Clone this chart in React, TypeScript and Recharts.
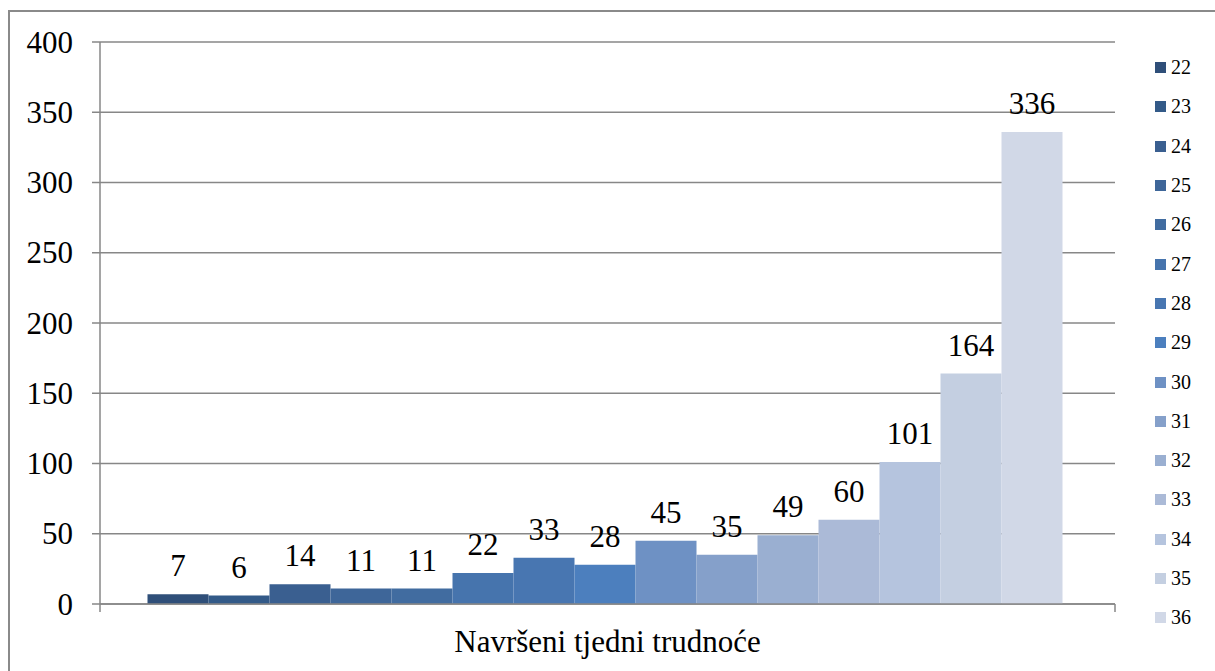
import { Bar, BarChart, CartesianGrid, LabelList, Legend, XAxis, YAxis } from 'recharts';

const category = 'Navršeni tjedni trudnoće';
const weeks = ['22', '23', '24', '25', '26', '27', '28', '29', '30', '31', '32', '33', '34', '35', '36'];
const counts = [7, 6, 14, 11, 11, 22, 33, 28, 45, 35, 49, 60, 101, 164, 336];
const colors = [
  '#2f4f79', '#335a88', '#3a5f90', '#3e6699', '#416ca0', '#4674ad', '#4876b1', '#4c7fbe',
  '#6e91c4', '#85a0ca', '#9aafd1', '#abbad7', '#b5c4de', '#c4cfe1', '#d1d8e7',
];
const yTicks = [0, 50, 100, 150, 200, 250, 300, 350, 400];

const row: Record<string, string | number> = { name: category };
weeks.forEach((w, i) => {
  row['w' + w] = counts[i];
});
const data = [row];

const FONT = 'Liberation Serif, serif';
const GRID = '#878787';

// one category, so tick marks go at both edges of the band and the name under it
function CategoryTick(props: any) {
  const { x, y, payload } = props;
  const half = (props.width ?? 1015) / 2;
  return (
    <g>
      <line x1={x - half} y1={y} x2={x - half} y2={y + 8} stroke={GRID} strokeWidth={1.5} />
      <line x1={x + half} y1={y} x2={x + half} y2={y + 8} stroke={GRID} strokeWidth={1.5} />
      <text x={x} y={y + 37} textAnchor="middle" dominantBaseline="central" fontSize={31} fontFamily={FONT} fill="#000">
        {payload.value}
      </text>
    </g>
  );
}

function ValueTick(props: any) {
  const { x, y, payload } = props;
  return (
    <text x={x} y={y} textAnchor="end" dominantBaseline="central" fontSize={31} fontFamily={FONT} fill="#000">
      {payload.value}
    </text>
  );
}

function BarValue(props: any) {
  const { x, y, width, value } = props;
  return (
    <text x={x + width / 2} y={y - 18} textAnchor="middle" fontSize={31} fontFamily={FONT} fill="#000">
      {value}
    </text>
  );
}

function LegendBox({ payload }: any) {
  return (
    <div style={{ fontFamily: FONT, fontSize: 20, color: '#000' }}>
      {(payload || []).map((p: any) => (
        <div key={p.value} style={{ height: 39.3, display: 'flex', alignItems: 'center' }}>
          <span style={{ width: 11, height: 11, background: p.color, marginRight: 5, display: 'inline-block' }} />
          <span style={{ fontFamily: FONT }}>{p.value}</span>
        </div>
      ))}
    </div>
  );
}

export default function App() {
  return (
    <div
      style={{
        position: 'absolute',
        left: 0,
        top: 0,
        width: 1215,
        height: 671,
        overflow: 'hidden',
        background: '#fff',
        fontFamily: FONT,
      }}
    >
      <div
        style={{
          position: 'absolute',
          left: 8,
          top: 10,
          width: 1300,
          height: 800,
          borderLeft: '2px solid #8a8a8a',
          borderTop: '2px solid #8a8a8a',
        }}
      />
      <div style={{ position: 'absolute', left: 0, top: 0 }}>
        <BarChart
          width={1215}
          height={671}
          data={data}
          margin={{ top: 42, right: 100, bottom: 0, left: 0 }}
          barCategoryGap={47.5}
          barGap={0}
          style={{ fontFamily: FONT }}
        >
          <CartesianGrid vertical={false} stroke={GRID} strokeWidth={1.5} />
          <XAxis
            dataKey="name"
            height={67}
            axisLine={{ stroke: GRID, strokeWidth: 1.5 }}
            tickLine={false}
            tickSize={0}
            tickMargin={0}
            tick={<CategoryTick />}
            interval={0}
          />
          <YAxis
            width={100}
            domain={[0, 400]}
            ticks={yTicks}
            axisLine={{ stroke: GRID, strokeWidth: 1.5 }}
            tickLine={{ stroke: GRID, strokeWidth: 1.5 }}
            tickSize={8}
            tickMargin={19}
            tick={<ValueTick />}
          />
          <Legend
            layout="vertical"
            align="center"
            verticalAlign="middle"
            content={<LegendBox />}
            wrapperStyle={{ left: 1155, top: 48, width: 60, fontFamily: FONT }}
          />
          {weeks.map((w, i) => (
            <Bar key={w} dataKey={'w' + w} name={w} fill={colors[i]} isAnimationActive={false}>
              <LabelList dataKey={'w' + w} content={<BarValue />} />
            </Bar>
          ))}
        </BarChart>
      </div>
    </div>
  );
}
